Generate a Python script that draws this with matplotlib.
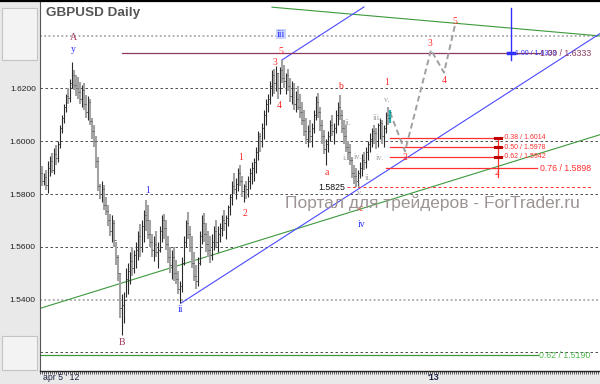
import matplotlib.pyplot as plt
from matplotlib.patches import Rectangle
from matplotlib.lines import Line2D

# ---------------------------------------------------------------------------
# DATA (daily GBPUSD bars, index 0 = apr 5 '12)
# ---------------------------------------------------------------------------
first_open = 1.5880
highs = [
    1.5905, 1.5880, 1.5890, 1.5925, 1.5945, 1.5955, 1.5975, 1.5985, 1.6000, 1.6060,
    1.6100, 1.6140, 1.6180, 1.6200, 1.6235, 1.6300, 1.6270, 1.6250, 1.6245, 1.6225,
    1.6215, 1.6220, 1.6175, 1.6170, 1.6160, 1.6090, 1.6060, 1.6020, 1.5940, 1.5840,
    1.5850, 1.5835, 1.5790, 1.5760, 1.5725, 1.5720, 1.5700, 1.5620, 1.5570, 1.5500,
    1.5420, 1.5430, 1.5520, 1.5540, 1.5580, 1.5600, 1.5590, 1.5620, 1.5660, 1.5685,
    1.5700, 1.5740, 1.5777, 1.5760, 1.5700, 1.5650, 1.5640, 1.5660, 1.5620, 1.5680,
    1.5720, 1.5725, 1.5700, 1.5640, 1.5600, 1.5590, 1.5600, 1.5550, 1.5510, 1.5470,
    1.5560, 1.5640, 1.5700, 1.5731, 1.5680, 1.5640, 1.5580, 1.5530, 1.5560, 1.5660,
    1.5720, 1.5727, 1.5690, 1.5660, 1.5640, 1.5650, 1.5680, 1.5700, 1.5680, 1.5690,
    1.5720, 1.5740, 1.5720, 1.5760, 1.5800, 1.5850, 1.5880, 1.5860, 1.5900, 1.5910,
    1.5870, 1.5840, 1.5850, 1.5870, 1.5900, 1.5920, 1.5935, 1.5980, 1.6040, 1.6030,
    1.6070, 1.6120, 1.6160, 1.6180, 1.6230, 1.6270, 1.6275, 1.6285, 1.6260, 1.6280,
    1.6309, 1.6290, 1.6260, 1.6275, 1.6240, 1.6230, 1.6220, 1.6190, 1.6210, 1.6180,
    1.6150, 1.6120, 1.6090, 1.6060, 1.6080, 1.6070, 1.6120, 1.6170, 1.6183, 1.6130,
    1.6080, 1.6042, 1.6010, 1.6040, 1.6080, 1.6100, 1.6070, 1.6120, 1.6150, 1.6175,
    1.6120, 1.6080, 1.6060, 1.6000, 1.5990, 1.5940, 1.5910, 1.5900, 1.5890, 1.5920,
    1.5950, 1.5960, 1.5980, 1.6000, 1.6030, 1.6050, 1.6060, 1.6050, 1.6070, 1.6090,
    1.6080, 1.6060, 1.6110, 1.6130, 1.6120,
]
lows = [
    1.5830, 1.5835, 1.5815, 1.5805, 1.5870, 1.5880, 1.5875, 1.5910, 1.5920, 1.5975,
    1.6030, 1.6070, 1.6110, 1.6140, 1.6150, 1.6200, 1.6195, 1.6170, 1.6160, 1.6140,
    1.6130, 1.6120, 1.6090, 1.6080, 1.6060, 1.6010, 1.5980, 1.5900, 1.5810, 1.5780,
    1.5770, 1.5740, 1.5720, 1.5680, 1.5640, 1.5620, 1.5600, 1.5530, 1.5470, 1.5330,
    1.5265, 1.5310, 1.5410, 1.5420, 1.5460, 1.5490, 1.5500, 1.5520, 1.5550, 1.5560,
    1.5580, 1.5620, 1.5660, 1.5630, 1.5600, 1.5560, 1.5545, 1.5560, 1.5520, 1.5580,
    1.5620, 1.5630, 1.5590, 1.5540, 1.5500, 1.5480, 1.5470, 1.5460, 1.5420, 1.5386,
    1.5430, 1.5530, 1.5600, 1.5630, 1.5580, 1.5520, 1.5470, 1.5440, 1.5450, 1.5530,
    1.5610, 1.5620, 1.5580, 1.5560, 1.5540, 1.5550, 1.5590, 1.5600, 1.5580, 1.5620,
    1.5640, 1.5660, 1.5630, 1.5680, 1.5720, 1.5760, 1.5800, 1.5780, 1.5810, 1.5830,
    1.5790, 1.5770, 1.5780, 1.5790, 1.5820, 1.5840, 1.5850, 1.5880, 1.5930, 1.5960,
    1.5980, 1.6010, 1.6060, 1.6110, 1.6140, 1.6170, 1.6180, 1.6190, 1.6160, 1.6180,
    1.6220, 1.6200, 1.6180, 1.6190, 1.6150, 1.6140, 1.6120, 1.6110, 1.6120, 1.6090,
    1.6060, 1.6020, 1.5990, 1.5980, 1.5995, 1.5980, 1.6030, 1.6080, 1.6090, 1.6040,
    1.5990, 1.5950, 1.5909, 1.5960, 1.6000, 1.6020, 1.5990, 1.6030, 1.6060, 1.6080,
    1.6030, 1.5990, 1.5960, 1.5930, 1.5910, 1.5860, 1.5840, 1.5825, 1.5830, 1.5860,
    1.5870, 1.5890, 1.5900, 1.5930, 1.5960, 1.5980, 1.5990, 1.5970, 1.5980, 1.6010,
    1.5990, 1.5980, 1.6030, 1.6060, 1.6070,
]
closes = [
    1.5850, 1.5865, 1.5835, 1.5900, 1.5925, 1.5890, 1.5950, 1.5935, 1.5990, 1.6050,
    1.6090, 1.6130, 1.6170, 1.6165, 1.6220, 1.6250, 1.6215, 1.6200, 1.6185, 1.6160,
    1.6195, 1.6140, 1.6110, 1.6150, 1.6075, 1.6040, 1.6000, 1.5925, 1.5830, 1.5800,
    1.5820, 1.5760, 1.5735, 1.5700, 1.5660, 1.5690, 1.5625, 1.5560, 1.5500, 1.5370,
    1.5380, 1.5400, 1.5480, 1.5510, 1.5545, 1.5520, 1.5570, 1.5590, 1.5640, 1.5600,
    1.5680, 1.5720, 1.5700, 1.5650, 1.5620, 1.5590, 1.5610, 1.5580, 1.5590, 1.5660,
    1.5700, 1.5670, 1.5610, 1.5560, 1.5530, 1.5560, 1.5500, 1.5480, 1.5440, 1.5450,
    1.5540, 1.5620, 1.5690, 1.5650, 1.5600, 1.5540, 1.5490, 1.5470, 1.5540, 1.5640,
    1.5690, 1.5650, 1.5610, 1.5590, 1.5570, 1.5620, 1.5660, 1.5620, 1.5650, 1.5670,
    1.5700, 1.5690, 1.5710, 1.5750, 1.5790, 1.5830, 1.5820, 1.5840, 1.5880, 1.5850,
    1.5810, 1.5830, 1.5820, 1.5850, 1.5880, 1.5900, 1.5920, 1.5960, 1.6020, 1.6000,
    1.6050, 1.6100, 1.6140, 1.6160, 1.6210, 1.6250, 1.6220, 1.6260, 1.6200, 1.6270,
    1.6240, 1.6230, 1.6250, 1.6210, 1.6170, 1.6200, 1.6140, 1.6160, 1.6130, 1.6110,
    1.6080, 1.6040, 1.6010, 1.6040, 1.6020, 1.6050, 1.6100, 1.6150, 1.6110, 1.6060,
    1.6020, 1.5970, 1.5990, 1.6020, 1.6060, 1.6040, 1.6050, 1.6100, 1.6130, 1.6100,
    1.6050, 1.6020, 1.5980, 1.5960, 1.5930, 1.5880, 1.5870, 1.5850, 1.5880, 1.5900,
    1.5930, 1.5920, 1.5960, 1.5990, 1.6010, 1.6040, 1.6030, 1.6000, 1.6060, 1.6070,
    1.6020, 1.6050, 1.6100, 1.6090, 1.6110,
]

price_ticks = [1.5200, 1.5400, 1.5600, 1.5800, 1.6000, 1.6200, 1.6400]

# projected wave path (bar index, price)
proj_x = [174, 181.5, 194.5, 201, 206.5]
proj_y = [1.6110, 1.5962, 1.6346, 1.6260, 1.6440]

# trend lines: (x0, y0, x1, y1)
green_low = (-1, 1.5367, 279, 1.6025)
green_top = (115, 1.6508, 279, 1.6399)
blue_low = (69.5, 1.5387, 279, 1.6408)
blue_top = (120, 1.6308, 161, 1.6509)

# fibonacci levels
fib_levels = [1.6014, 1.5978, 1.5942]
fib_labels = ["-0.38 / 1.6014", "-0.50 / 1.5978", "-0.62 / 1.5942"]
fib_main = 1.5898
target_level = 1.6333
green_level = 1.5190
low_level = 1.5825

# wave labels: text, bar index, price, colour key
wave_text = ["A", "y", "B", "1", "ii", "iv",
             "1", "2", "3", "4", "5", "a", "b", "c", "1", "2", "3", "4", "5", "2"]
wave_x = [15.5, 15.5, 40, 53, 69.5, 160,
          99.5, 101.5, 116.5, 118.5, 119.5, 142.5, 149, 159.5, 172.5,
          181.5, 194, 201, 206.5, 227.5]
wave_y = [1.6395, 1.6346, 1.5239, 1.5815, 1.5361, 1.5683,
          1.5940, 1.5728, 1.6300, 1.6137, 1.6342, 1.5883, 1.6206, 1.5747, 1.6221,
          1.5940, 1.6372, 1.6232, 1.6452, 1.5883]
wave_col = ["m", "b", "m", "b", "b", "b",
            "r", "r", "r", "r", "r", "r", "r", "r", "r", "r", "r", "r", "r", "r"]

sub_text = ["i.", "ii.", "iii", "iv.", "v.", "ii.", "iii.", "iv.", "v."]
sub_x = [151.5, 153, 157.5, 158, 159, 163, 167.5, 169, 172.5]
sub_y = [1.5936, 1.6069, 1.5834, 1.5940, 1.5804, 1.5861, 1.6088, 1.5936, 1.6156]

# ---------------------------------------------------------------------------
# FIGURE
# ---------------------------------------------------------------------------
plt.rcParams['font.family'] = ['Liberation Sans', 'DejaVu Sans']
W, H = 600, 384
COLORS = {"m": "#a0325a", "b": "#3030ff", "r": "#ff2a2a"}

fig = plt.figure(figsize=(6, 3.84), dpi=100, facecolor="#e9e9e9")
ax = fig.add_axes([40 / W, 13 / H, 560 / W, 370 / H])
ax.set_facecolor("white")
ax.set_xlim(-1, 279)
ax.set_ylim(1.51299, 1.65314)

# left panel boxes
for top, bot in [(8, 60), (336, 370)]:
    fig.patches.append(Rectangle((2 / W, 1 - bot / H), 35 / W, (bot - top) / H,
                                 transform=fig.transFigure, facecolor="#f3f3f3",
                                 edgecolor="#c4c4c4", lw=0.8, zorder=0))
fig.add_artist(Line2D([0, 1], [1 - 0.8 / H, 1 - 0.8 / H], color="black", lw=1.6))

# grid
for p in price_ticks:
    if p in (1.6400, 1.5400):
        ax.axhline(p, color="#9a9a9a", lw=1.1, ls=(0, (1.2, 1.6)), zorder=1)
    else:
        ax.axhline(p, color="#333333", lw=0.6, ls=(0, (3, 3)), zorder=1)

# trend lines
for (x0, y0, x1, y1), c in [(green_low, "#3c9a3c"), (green_top, "#3c9a3c"),
                            (blue_low, "#4a4aff"), (blue_top, "#4a4aff")]:
    ax.plot([x0, x1], [y0, y1], color=c, lw=0.8, zorder=2)

ax.plot([40, 249], [target_level] * 2, color="#8c3a62", lw=0.9, zorder=2)
ax.plot([-1, 248], [green_level] * 2, color="#3c9a3c", lw=0.9, zorder=2)
ax.plot([152.5, 275], [low_level] * 2, color="#ff3030", lw=0.7,
        ls=(0, (3, 2.5)), zorder=2)

# fibonacci block
for lv, lab in zip(fib_levels, fib_labels):
    ax.plot([174, 228], [lv, lv], color="#ff3030", lw=0.9, zorder=2)
    ax.plot([226.5, 229.5], [lv, lv], color="#c00000", lw=2.2, zorder=3)
    ax.text(230, lv, lab, color="#ff3030", fontsize=5, va="center", zorder=4)
ax.plot([172, 247.5], [fib_main] * 2, color="#ff3030", lw=0.9, zorder=2)
ax.plot([228, 228], [fib_levels[0], 1.5866], color="#ff3030", lw=0.9, zorder=2)
ax.text(249, fib_main, "0.76 / 1.5898", color="#ff3030", fontsize=6.3,
        va="center", zorder=4)

# blue target marker
ax.plot([234.5, 234.5], [1.6505, 1.6308], color="#3030ff", lw=1.0, zorder=3)
ax.plot([233, 236], [target_level] * 2, color="#3030ff", lw=2.5, zorder=3)
ax.text(236.5, target_level, "1.00 / 1.6333", color="#3030ff", fontsize=5,
        va="center", zorder=4)
ax.text(249, target_level, "1.00 / 1.6333", color="#8c3a62", fontsize=6.3,
        va="center", zorder=4)
ax.text(248.5, green_level, "0.62 / 1.5190", color="#50b850", fontsize=6.3,
        va="center", zorder=4)
ax.text(151.5, low_level, "1.5825", color="#111111", fontsize=6.3,
        ha="right", va="center", zorder=4)

# price bars
opens = [first_open] + closes[:-1]
n = len(closes)
for i in range(n):
    up = closes[i] >= opens[i]
    col, lw = ("#2a2a2a", 0.8) if up else ("#a3a3a3", 1.5)
    if i == n - 1:
        col, lw = "#20b0b0", 1.6
    ax.vlines(i, lows[i], highs[i], color=col, lw=lw, zorder=5)
    ax.hlines(opens[i], i - 0.6, i, color="#333333", lw=0.6, zorder=5)
    ax.hlines(closes[i], i, i + 0.6, color="#333333", lw=0.6, zorder=5)

# projection
ax.plot(proj_x, proj_y, color="#a0a0a0", lw=1.4, ls=(0, (3, 1.8)), zorder=4)

# wave labels
for t, x, y, c in zip(wave_text, wave_x, wave_y, wave_col):
    ax.text(x, y, t, color=COLORS[c], fontsize=7, family="Liberation Serif",
            ha="center", va="center", zorder=6)
ax.text(119.5, 1.6406, "iii", color="#3030ff", fontsize=7, family="Liberation Serif",
        ha="center", va="center", zorder=6,
        bbox=dict(facecolor="#c8d4ff", edgecolor="none", pad=0.4))
for t, x, y in zip(sub_text, sub_x, sub_y):
    ax.text(x, y, t, color="#a0a0a0", fontsize=6, family="Liberation Serif",
            ha="center", va="center", zorder=6)

# axes styling
ax.set_yticks(price_ticks)
ax.set_yticklabels([f"{p:.4f}" for p in price_ticks], fontsize=6, color="#222222")
ax.tick_params(axis="y", length=0, pad=3)
ax.set_xticks([])
ax.set_xticks(range(-1, 279), minor=True)
ax.tick_params(axis="x", which="minor", length=1.8, width=0.6, color="#444444",
               direction="out")
for s in ("top", "right"):
    ax.spines[s].set_visible(False)
ax.spines["left"].set_color("#555555")
ax.spines["left"].set_linewidth(0.8)
ax.spines["bottom"].set_color("#222222")
ax.spines["bottom"].set_linewidth(1.0)

# texts
fig.text(46 / W, 1 - 13 / H, "GBPUSD Daily", fontsize=9.7, fontweight="bold",
         color="#555555", va="center")
fig.text(285 / W, 1 - 203 / H, "Портал для трейдеров - ForTrader.ru",
         fontsize=12.5, color="#9d9393", va="center", zorder=7)
fig.text(43 / W, 1 - 378 / H, "apr 5 ' 12", fontsize=6.3, color="#1a2040",
         va="center")
fig.text(427 / W, 1 - 378 / H, "'13", fontsize=6.3, color="#1a2040",
         fontweight="bold", va="center")

fig.savefig("out.png", dpi=100, facecolor=fig.get_facecolor())
